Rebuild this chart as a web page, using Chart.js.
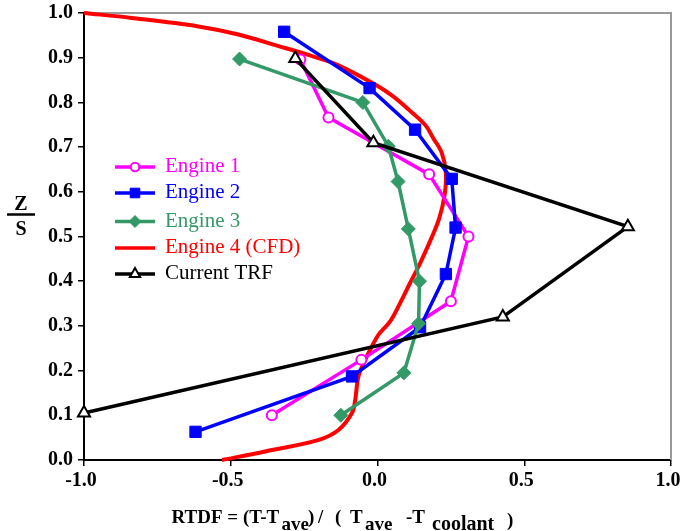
<!DOCTYPE html>
<html>
<head>
<meta charset="utf-8">
<script src="https://cdn.jsdelivr.net/npm/chart.js@4"></script>
<style>
  html, body { margin: 0; padding: 0; background: #fff; }
  #wrap { width: 681px; height: 531px; position: relative; }
</style>
</head>
<body>
<div id="wrap"><canvas id="c" width="681" height="531"></canvas></div>
<script>
// ---- data ----
const seriesNames = ['Engine 1', 'Engine 2', 'Engine 3', 'Engine 4 (CFD)', 'Current TRF'];

const e1X = [-0.36, -0.055, 0.25, 0.31, 0.176, -0.167, -0.263];
const e1Y = [0.10, 0.224, 0.355, 0.50, 0.639, 0.766, 0.896];

const e2X = [-0.62, -0.087, 0.145, 0.233, 0.266, 0.253, 0.128, -0.027, -0.318];
const e2Y = [0.063, 0.187, 0.297, 0.416, 0.52, 0.629, 0.739, 0.832, 0.958];

const e3X = [-0.125, 0.09, 0.14, 0.143, 0.105, 0.07, 0.037, -0.05, -0.47];
const e3Y = [0.10, 0.195, 0.305, 0.40, 0.517, 0.623, 0.702, 0.80, 0.897];

const e4X = [-0.53, -0.383, -0.20, -0.133, -0.087, -0.076, -0.065, -0.042, -0.019, 0.003, 0.043, 0.077, 0.111, 0.145, 0.184, 0.21, 0.228, 0.233, 0.219, 0.19, 0.162, 0.106, 0.05, -0.008, -0.133, -0.23, -0.337, -0.474, -0.61, -0.838, -1.0];
const e4Y = [0.0, 0.019, 0.045, 0.067, 0.105, 0.134, 0.187, 0.224, 0.254, 0.28, 0.31, 0.351, 0.396, 0.44, 0.497, 0.54, 0.59, 0.642, 0.687, 0.72, 0.75, 0.784, 0.815, 0.84, 0.883, 0.905, 0.926, 0.952, 0.970, 0.989, 1.0];

const trfX = [-0.28, -0.014, 0.853, 0.427, -1.0];
const trfY = [0.898, 0.71, 0.522, 0.32, 0.105];

const xTicks = [-1.0, -0.5, 0.0, 0.5, 1.0];
const yTicks = [0.0, 0.1, 0.2, 0.3, 0.4, 0.5, 0.6, 0.7, 0.8, 0.9, 1.0];

const colors = ['#FF00FF', '#0000FF', '#339966', '#FF0000', '#000000'];

// ---- helpers ----
const pts = (xs, ys) => xs.map((x, i) => ({ x: x, y: ys[i] }));
const SERIF = "'Liberation Serif', 'Times New Roman', serif";

const datasets = [
  { label: seriesNames[0], data: pts(e1X, e1Y), borderColor: colors[0], borderWidth: 3.5,
    pointStyle: 'circle', pointRadius: 5, pointBackgroundColor: '#fff', pointBorderColor: colors[0], pointBorderWidth: 2, order: 4 },
  { label: seriesNames[1], data: pts(e2X, e2Y), borderColor: colors[1], borderWidth: 3.5,
    pointStyle: 'rect', pointRadius: 8, pointBackgroundColor: colors[1], pointBorderColor: colors[1], pointBorderWidth: 1, order: 3 },
  { label: seriesNames[2], data: pts(e3X, e3Y), borderColor: colors[2], borderWidth: 3.5,
    pointStyle: 'rectRot', pointRadius: 7, pointBackgroundColor: colors[2], pointBorderColor: colors[2], pointBorderWidth: 1, order: 2 },
  { label: seriesNames[3], data: pts(e4X, e4Y), borderColor: colors[3], borderWidth: 4,
    pointRadius: 0, tension: 0.35, order: 5 },
  { label: seriesNames[4], data: pts(trfX, trfY), borderColor: colors[4], borderWidth: 3.5,
    pointStyle: 'triangle', pointRadius: 7, pointBackgroundColor: '#fff', pointBorderColor: colors[4], pointBorderWidth: 2, order: 1 }
];
datasets.forEach(d => { d.showLine = true; d.fill = false; d.clip = false; });

// frame (grey top/right)
const framePlugin = {
  id: 'frame',
  beforeDatasetsDraw(chart) {
    const { ctx, chartArea: a } = chart;
    ctx.save();
    ctx.strokeStyle = '#9a9a9a';
    ctx.lineWidth = 2;
    ctx.beginPath();
    ctx.moveTo(a.left, a.top);
    ctx.lineTo(a.right, a.top);
    ctx.lineTo(a.right, a.bottom);
    ctx.stroke();
    ctx.restore();
  }
};

// legend inside plot area
const legendPlugin = {
  id: 'innerLegend',
  afterDraw(chart) {
    const { ctx, chartArea: a } = chart;
    const x0 = a.left + 31, x1 = a.left + 71, tx = a.left + 81;
    const baselines = [172, 198, 226.5, 253, 279];
    ctx.save();
    ctx.font = '21px ' + SERIF;
    ctx.textBaseline = 'alphabetic';
    chart.data.datasets.forEach((ds, i) => {
      const ly = baselines[i] - 5;
      ctx.strokeStyle = ds.borderColor;
      ctx.lineWidth = 3.5;
      ctx.beginPath();
      ctx.moveTo(x0, ly);
      ctx.lineTo(x1, ly);
      ctx.stroke();
      if (ds.pointRadius > 0) {
        ctx.fillStyle = ds.pointBackgroundColor;
        ctx.strokeStyle = ds.pointBorderColor;
        ctx.lineWidth = ds.pointBorderWidth;
        Chart.helpers.drawPoint(ctx, { pointStyle: ds.pointStyle, radius: ds.pointRadius * 0.85, rotation: 0, borderWidth: ds.pointBorderWidth }, (x0 + x1) / 2, ly);
      }
      ctx.fillStyle = ds.borderColor;
      ctx.fillText(ds.label, tx, baselines[i]);
    });
    ctx.restore();
  }
};

// axis titles with subscripts
const titlesPlugin = {
  id: 'axisTitles',
  afterDraw(chart) {
    const { ctx } = chart;
    ctx.save();
    ctx.fillStyle = '#000';
    ctx.textBaseline = 'alphabetic';
    // y title: Z over S
    ctx.font = 'bold 20px ' + SERIF;
    ctx.textAlign = 'center';
    ctx.fillText('Z', 21, 210);
    ctx.fillText('S', 21, 235);
    ctx.lineWidth = 2.5;
    ctx.strokeStyle = '#000';
    ctx.beginPath();
    ctx.moveTo(7, 214.5);
    ctx.lineTo(35, 214.5);
    ctx.stroke();
    // x title
    ctx.textAlign = 'left';
    const parts = [
      ['RTDF = (T-T', 171.5, 523, 19],
      ['ave', 281.5, 530, 19],
      [')', 308, 523, 19],
      ['/', 318, 523, 19],
      ['(', 335, 523, 19],
      ['T', 350, 523, 19],
      ['ave', 365, 530, 19],
      ['-T', 406, 523, 19],
      ['coolant', 432, 530, 20],
      [')', 507, 526, 19]
    ];
    parts.forEach(p => { ctx.font = 'bold ' + p[3] + 'px ' + SERIF; ctx.fillText(p[0], p[1], p[2]); });
    ctx.restore();
  }
};

const tickFont = { family: SERIF, size: 20, weight: 'bold' };

new Chart(document.getElementById('c'), {
  type: 'scatter',
  data: { datasets: datasets },
  options: {
    responsive: false,
    animation: false,
    events: [],
    layout: { padding: { top: 13, right: 10, left: 0, bottom: 0 } },
    plugins: { legend: { display: false }, tooltip: { enabled: false }, title: { display: false } },
    scales: {
      x: {
        type: 'linear', min: -1, max: 1,
        afterBuildTicks(s) { s.ticks = xTicks.map(v => ({ value: v })); },
        afterFit(s) { s.height = 71; s.paddingRight = 0; s.paddingLeft = 0; },
        ticks: { font: tickFont, color: '#000', padding: 3, maxRotation: 0, labelOffset: -3, callback: v => v.toFixed(1) },
        grid: { drawOnChartArea: false, drawTicks: true, tickLength: 6, color: '#000', lineWidth: 1.5 },
        border: { display: true, color: '#000', width: 2 }
      },
      y: {
        type: 'linear', min: 0, max: 1,
        afterBuildTicks(s) { s.ticks = yTicks.map(v => ({ value: v })); },
        afterFit(s) { s.width = 84; s.paddingTop = 0; s.paddingBottom = 0; },
        ticks: { font: tickFont, color: '#000', padding: 5, callback: v => v.toFixed(1) },
        grid: { drawOnChartArea: false, drawTicks: true, tickLength: 6, color: '#000', lineWidth: 1.5 },
        border: { display: true, color: '#000', width: 2 }
      }
    }
  },
  plugins: [framePlugin, legendPlugin, titlesPlugin]
});
</script>
</body>
</html>
